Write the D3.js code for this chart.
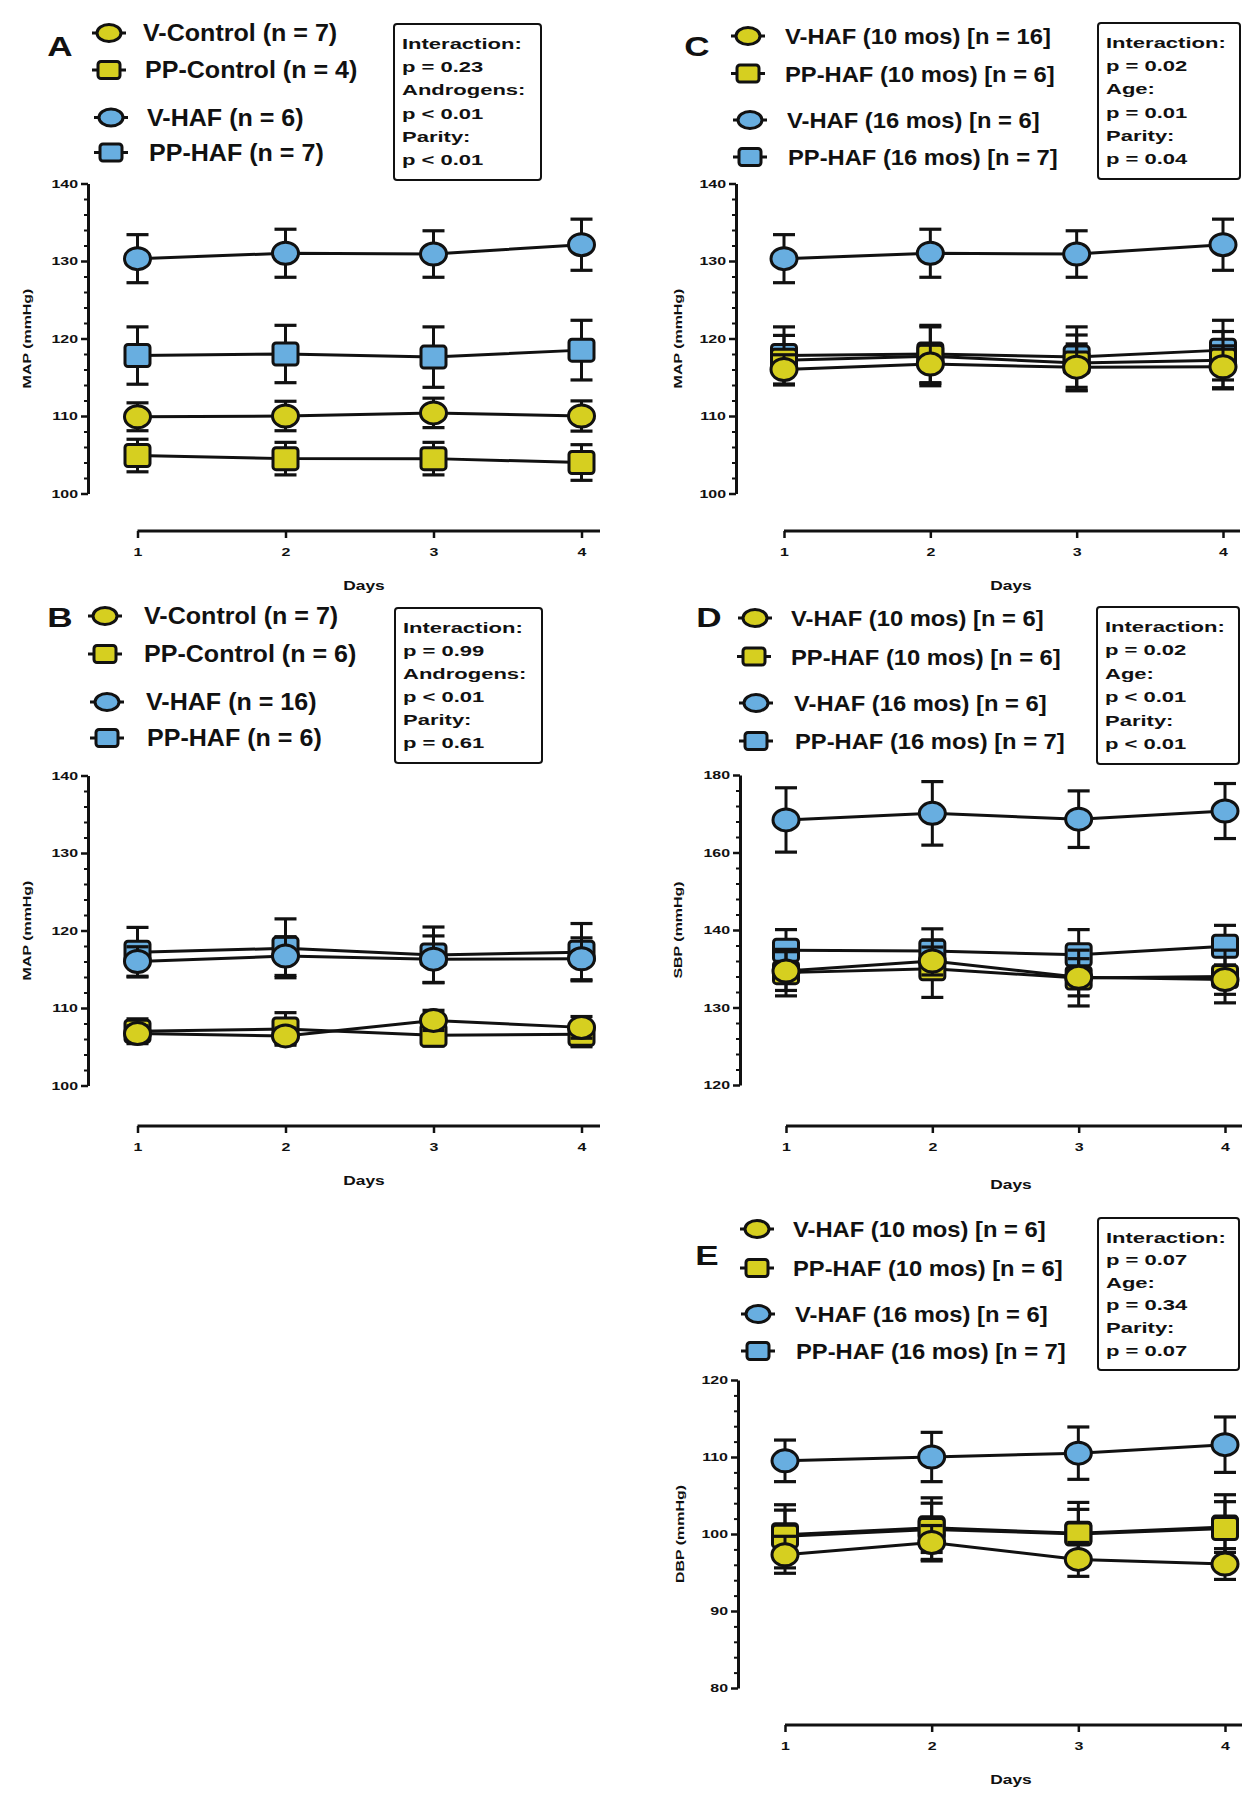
<!DOCTYPE html>
<html><head><meta charset="utf-8">
<script src="https://cdn.jsdelivr.net/npm/d3@7"></script>
<style>body{margin:0;background:#fff} svg{display:block}</style>
</head><body><svg id="c" width="1259" height="1800"></svg>
<script>
// ---------------- DATA ----------------
const days = [1, 2, 3, 4];
const dayLabels = ["1", "2", "3", "4"];
const mapTicks = [100, 110, 120, 130, 140];
const sbpTicks = [120, 130, 140, 160, 180];
const dbpTicks = [80, 90, 100, 110, 120];

// Panel A (MAP)
const A_vControl = [109.9, 110.0, 110.4, 110.0];
const A_vControl_sem = [1.8, 1.9, 1.9, 1.95];
const A_ppControl = [104.9, 104.5, 104.5, 104.0];
const A_ppControl_sem = [2.1, 2.1, 2.1, 2.3];
const A_vHAF = [130.3, 131.0, 130.9, 132.1];
const A_vHAF_sem = [3.1, 3.1, 3.0, 3.3];
const A_ppHAF = [117.8, 118.0, 117.6, 118.5];
const A_ppHAF_sem = [3.7, 3.7, 3.9, 3.85];
const A_legend = ["V-Control (n = 7)", "PP-Control (n = 4)", "V-HAF (n = 6)", "PP-HAF (n = 7)"];
const A_stats = ["Interaction:", "p = 0.23", "Androgens:", "p < 0.01", "Parity:", "p < 0.01"];

// Panel B (MAP)
const B_vControl = [106.7, 106.4, 108.4, 107.5];
const B_vControl_sem = [1.0, 1.0, 1.3, 1.4];
const B_ppControl = [107.0, 107.3, 106.5, 106.6];
const B_ppControl_sem = [1.6, 2.1, 1.4, 1.6];
const B_vHAF = [116.0, 116.7, 116.3, 116.35];
const B_vHAF_sem = [1.9, 2.5, 3.0, 2.7];
const B_ppHAF = [117.2, 117.7, 116.85, 117.2];
const B_ppHAF_sem = [3.2, 3.8, 3.6, 3.7];
const B_legend = ["V-Control (n = 7)", "PP-Control (n = 6)", "V-HAF (n = 16)", "PP-HAF (n = 6)"];
const B_stats = ["Interaction:", "p = 0.99", "Androgens:", "p < 0.01", "Parity:", "p = 0.61"];

// Panel C (MAP)
const C_vHAF10 = [116.0, 116.7, 116.3, 116.35];
const C_vHAF10_sem = [1.9, 2.5, 3.0, 2.7];
const C_ppHAF10 = [117.2, 117.7, 116.85, 117.2];
const C_ppHAF10_sem = [3.2, 3.8, 3.6, 3.7];
const C_vHAF16 = [130.3, 131.0, 130.9, 132.1];
const C_vHAF16_sem = [3.1, 3.1, 3.0, 3.3];
const C_ppHAF16 = [117.8, 118.0, 117.6, 118.5];
const C_ppHAF16_sem = [3.7, 3.7, 3.9, 3.85];
const C_legend = ["V-HAF (10 mos) [n = 16]", "PP-HAF (10 mos) [n = 6]", "V-HAF (16 mos) [n = 6]", "PP-HAF (16 mos) [n = 7]"];
const C_stats = ["Interaction:", "p = 0.02", "Age:", "p = 0.01", "Parity:", "p = 0.04"];

// Panel D (SBP)
const D_vHAF10 = [134.7, 136.0, 133.9, 133.6];
const D_vHAF10_sem = [2.5, 1.8, 2.4, 1.9];
const D_ppHAF10 = [134.5, 135.0, 133.8, 134.0];
const D_ppHAF10_sem = [3.0, 3.7, 3.6, 3.4];
const D_vHAF16 = [168.4, 170.1, 168.6, 170.7];
const D_vHAF16_sem = [8.3, 8.2, 7.3, 7.1];
const D_ppHAF16 = [137.4, 137.3, 136.8, 137.9];
const D_ppHAF16_sem = [2.7, 3.0, 3.3, 3.3];
const D_legend = ["V-HAF (10 mos) [n = 6]", "PP-HAF (10 mos) [n = 6]", "V-HAF (16 mos) [n = 6]", "PP-HAF (16 mos) [n = 7]"];
const D_stats = ["Interaction:", "p = 0.02", "Age:", "p < 0.01", "Parity:", "p < 0.01"];

// Panel E (DBP)
const E_vHAF10 = [97.3, 98.9, 96.7, 96.1];
const E_vHAF10_sem = [2.4, 2.2, 2.2, 2.0];
const E_ppHAF10 = [99.7, 100.6, 100.0, 100.7];
const E_ppHAF10_sem = [4.1, 4.1, 4.1, 4.4];
const E_vHAF16 = [109.5, 110.0, 110.5, 111.6];
const E_vHAF16_sem = [2.7, 3.2, 3.4, 3.6];
const E_ppHAF16 = [99.9, 100.8, 100.1, 100.9];
const E_ppHAF16_sem = [3.2, 3.2, 3.1, 3.3];
const E_legend = ["V-HAF (10 mos) [n = 6]", "PP-HAF (10 mos) [n = 6]", "V-HAF (16 mos) [n = 6]", "PP-HAF (16 mos) [n = 7]"];
const E_stats = ["Interaction:", "p = 0.07", "Age:", "p = 0.34", "Parity:", "p = 0.07"];

// ---------------- STYLE / LAYOUT ----------------
const YELLOW = "#d6cf20", BLUE = "#68aee0", INK = "#111";
const FONT = "'Liberation Sans', Arial, sans-serif";

function mk(v, s) {
  return [
    {values: v[0], sem: s[0], color: YELLOW, shape: "circle"},
    {values: v[1], sem: s[1], color: YELLOW, shape: "square"},
    {values: v[2], sem: s[2], color: BLUE, shape: "circle"},
    {values: v[3], sem: s[3], color: BLUE, shape: "square"}
  ];
}

const panels = [
  {letter: "A", ticks: mapTicks, yLabel: "MAP (mmHg)", legend: A_legend, stats: A_stats,
   series: mk([A_vControl, A_ppControl, A_vHAF, A_ppHAF], [A_vControl_sem, A_ppControl_sem, A_vHAF_sem, A_ppHAF_sem]),
   L: {ax: 88, yTop: 183.5, yBot: 493.5, xAxisY: 531, x1: 137.5, x4: 581.5, xEnd: 600, letter: [60, 46],
       mx: [109, 109, 111, 111], tx: [143, 145, 147, 149], rows: [33, 70, 117.5, 152.5], lfs: 23, lsx: 1.09,
       box: [394, 24, 147, 156], ylab: [27, 338.5], daysXY: [364, 590]}},
  {letter: "B", ticks: mapTicks, yLabel: "MAP (mmHg)", legend: B_legend, stats: B_stats,
   series: mk([B_vControl, B_ppControl, B_vHAF, B_ppHAF], [B_vControl_sem, B_ppControl_sem, B_vHAF_sem, B_ppHAF_sem]),
   L: {ax: 88, yTop: 775.5, yBot: 1085.5, xAxisY: 1126, x1: 137.5, x4: 581.5, xEnd: 600, letter: [60, 617],
       mx: [105, 105, 107, 107], tx: [144, 144, 146, 147], rows: [616, 654, 702, 738], lfs: 23, lsx: 1.09,
       box: [395, 608, 147, 155], ylab: [27, 930.5], daysXY: [364, 1185]}},
  {letter: "C", ticks: mapTicks, yLabel: "MAP (mmHg)", legend: C_legend, stats: C_stats,
   series: mk([C_vHAF10, C_ppHAF10, C_vHAF16, C_ppHAF16], [C_vHAF10_sem, C_ppHAF10_sem, C_vHAF16_sem, C_ppHAF16_sem]),
   L: {ax: 736, yTop: 183.5, yBot: 493.5, xAxisY: 531, x1: 784, x4: 1223, xEnd: 1240, letter: [697, 46],
       mx: [748, 748, 750, 750], tx: [785, 785, 787, 788], rows: [36, 73.5, 120, 157], lfs: 22, lsx: 1.08,
       box: [1098, 23, 142, 156], ylab: [678, 338.5], daysXY: [1011, 590]}},
  {letter: "D", ticks: sbpTicks, yLabel: "SBP (mmHg)", legend: D_legend, stats: D_stats,
   series: mk([D_vHAF10, D_ppHAF10, D_vHAF16, D_ppHAF16], [D_vHAF10_sem, D_ppHAF10_sem, D_vHAF16_sem, D_ppHAF16_sem]),
   L: {ax: 740, yTop: 775, yBot: 1085, xAxisY: 1126, x1: 786, x4: 1225, xEnd: 1242, letter: [709, 617],
       mx: [755, 754, 756, 756], tx: [791, 791, 794, 795], rows: [618, 656.5, 703, 741], lfs: 22, lsx: 1.08,
       box: [1097, 607, 142, 157], ylab: [678, 930], daysXY: [1011, 1189]}},
  {letter: "E", ticks: dbpTicks, yLabel: "DBP (mmHg)", legend: E_legend, stats: E_stats,
   series: mk([E_vHAF10, E_ppHAF10, E_vHAF16, E_ppHAF16], [E_vHAF10_sem, E_ppHAF10_sem, E_vHAF16_sem, E_ppHAF16_sem]),
   L: {ax: 738, yTop: 1380, yBot: 1688, xAxisY: 1725, x1: 785, x4: 1225, xEnd: 1242, letter: [707, 1255],
       mx: [757, 757, 758, 758], tx: [793, 793, 795, 796], rows: [1229, 1268, 1314, 1351], lfs: 22, lsx: 1.08,
       box: [1098, 1218, 141, 152], ylab: [680, 1534], daysXY: [1011, 1784]}}
];

const svg = d3.select("#c");

function stext(parent, x, y, str, size, sx, anchor, rot) {
  return parent.append("text")
    .attr("transform", `translate(${x},${y})${rot ? " rotate(-90)" : ""} scale(${sx},1)`)
    .attr("text-anchor", anchor || "start")
    .attr("font-family", FONT).attr("font-size", size).attr("font-weight", "bold")
    .attr("fill", INK).text(str);
}

function marker(g, shape, cx, cy, color, w, h, sw) {
  if (shape === "circle") {
    g.append("ellipse").attr("cx", cx).attr("cy", cy).attr("rx", w / 2).attr("ry", h / 2)
      .attr("fill", color).attr("stroke", INK).attr("stroke-width", sw);
  } else {
    g.append("rect").attr("x", cx - w / 2).attr("y", cy - h / 2).attr("width", w).attr("height", h)
      .attr("rx", 3).attr("fill", color).attr("stroke", INK).attr("stroke-width", sw);
  }
}

function drawPanel(P) {
  const L = P.L;
  const g = svg.append("g");
  const n = P.ticks.length;
  const y = d3.scaleLinear().domain(P.ticks)
    .range(P.ticks.map((t, i) => L.yBot - i * (L.yBot - L.yTop) / (n - 1)));
  const x = d3.scaleLinear().domain([days[0], days[days.length - 1]]).range([L.x1, L.x4]);

  // minor ticks
  const minors = [];
  for (let i = 0; i < n - 1; i++)
    for (let k = 1; k < 5; k++) minors.push(P.ticks[i] + (P.ticks[i + 1] - P.ticks[i]) * k / 5);
  const ym = g.append("g").attr("transform", `translate(${L.ax},0)`)
    .call(d3.axisLeft(y).tickValues(minors).tickSize(4).tickSizeOuter(0).tickFormat(""));
  ym.select(".domain").remove();
  ym.selectAll("line").attr("stroke", INK).attr("stroke-width", 2);

  const ya = g.append("g").attr("transform", `translate(${L.ax},0)`)
    .call(d3.axisLeft(y).tickValues(P.ticks).tickSize(7).tickSizeOuter(0).tickFormat(d3.format("d")));
  ya.select(".domain").attr("stroke", INK).attr("stroke-width", 3);
  ya.selectAll(".tick line").attr("stroke", INK).attr("stroke-width", 2.5);
  ya.selectAll(".tick text").attr("x", 0).attr("dy", "0.36em")
    .attr("transform", "translate(-10,0) scale(1.45,1)")
    .attr("font-family", FONT).attr("font-size", 11).attr("font-weight", "bold").attr("fill", INK);

  // x axis
  const xa = g.append("g").attr("transform", `translate(0,${L.xAxisY})`)
    .call(d3.axisBottom(x).tickValues(days).tickSize(7).tickSizeOuter(0).tickFormat((d, i) => dayLabels[i]));
  xa.select(".domain").attr("d", `M${L.x1},0H${L.xEnd}`).attr("stroke", INK).attr("stroke-width", 3);
  xa.selectAll(".tick line").attr("stroke", INK).attr("stroke-width", 2.5);
  xa.selectAll(".tick text").attr("y", 0).attr("dy", 0)
    .attr("transform", "translate(0,25) scale(1.45,1)")
    .attr("font-family", FONT).attr("font-size", 11).attr("font-weight", "bold").attr("fill", INK);

  // axis titles
  stext(g, L.daysXY[0], L.daysXY[1], "Days", 12, 1.45, "middle");
  stext(g, L.ylab[0] + 4, L.ylab[1], P.yLabel, 11, 1.45, "middle", true);

  // series (last legend entry drawn first)
  P.series.slice().reverse().forEach(s => {
    const sg = g.append("g");
    s.values.forEach((v, i) => {
      const cx = x(days[i]);
      const lo = y(v - s.sem[i]), hi = y(v + s.sem[i]);
      sg.append("line").attr("x1", cx).attr("x2", cx).attr("y1", lo).attr("y2", hi)
        .attr("stroke", INK).attr("stroke-width", 3);
      [lo, hi].forEach(yy => sg.append("line").attr("x1", cx - 11).attr("x2", cx + 11)
        .attr("y1", yy).attr("y2", yy).attr("stroke", INK).attr("stroke-width", 3.2));
    });
    sg.append("path").datum(s.values)
      .attr("d", d3.line().x((d, i) => x(days[i])).y(d => y(d)))
      .attr("fill", "none").attr("stroke", INK).attr("stroke-width", 3);
    s.values.forEach((v, i) => {
      if (s.shape === "circle") marker(sg, "circle", x(days[i]), y(v), s.color, 26, 22, 3);
      else marker(sg, "square", x(days[i]), y(v), s.color, 25, 22, 3);
    });
  });

  // panel letter
  stext(g, L.letter[0], L.letter[1] + 10, P.letter, 27, 1.3, "middle");

  // legend
  P.legend.forEach((lab, i) => {
    const s = P.series[i];
    const cy = L.rows[i], cx = L.mx[i];
    g.append("line").attr("x1", cx - 17).attr("x2", cx + 17).attr("y1", cy).attr("y2", cy)
      .attr("stroke", INK).attr("stroke-width", 3);
    if (s.shape === "circle") marker(g, "circle", cx, cy, s.color, 24, 17, 3);
    else marker(g, "square", cx, cy, s.color, 22, 17, 3);
    stext(g, L.tx[i], cy + 8, lab, L.lfs, L.lsx, "start");
  });

  // stats box
  const [bx, by, bw, bh] = L.box;
  g.append("rect").attr("x", bx).attr("y", by).attr("width", bw).attr("height", bh).attr("rx", 3)
    .attr("fill", "#fff").attr("stroke", INK).attr("stroke-width", 2);
  const first = by + 0.125 * bh, step = (0.869 - 0.125) * bh / (P.stats.length - 1);
  P.stats.forEach((t, i) => stext(g, bx + 8, first + i * step + 5.5, t, 15.5, 1.42, "start"));
}

panels.forEach(drawPanel);
</script>
</body></html>
